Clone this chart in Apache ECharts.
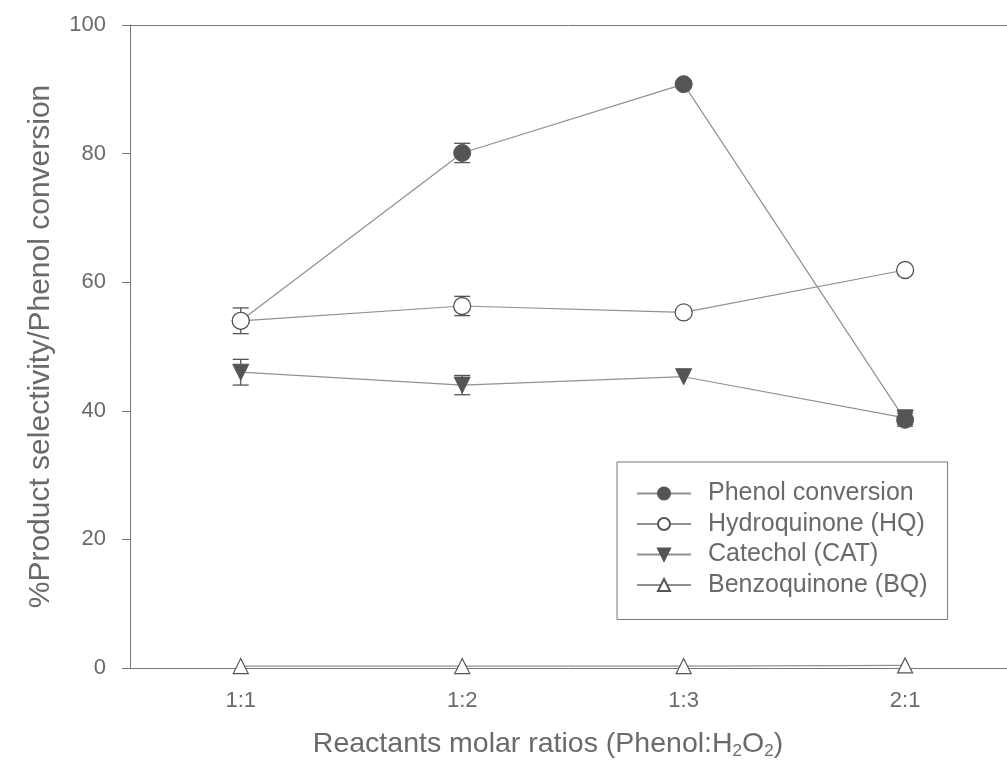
<!DOCTYPE html>
<html><head><meta charset="utf-8">
<script src="https://cdn.jsdelivr.net/npm/echarts@6/dist/echarts.min.js"></script>
<style>html,body{margin:0;padding:0;background:#fff}#c{width:1007px;height:774px}</style>
</head><body><div id="c"></div>
<script>
const categories = ['1:1', '1:2', '1:3', '2:1'];
const yTicks = [0, 20, 40, 60, 80, 100];
const phenol = [54, 80.1, 90.8, 38.6];
const phenolErr = [0, 1.5, 0, 1];
const hq = [54, 56.3, 55.3, 61.9];
const hqErr = [2, 1.5, 0, 0];
const cat = [46, 44, 45.3, 38.9];
const catErr = [2, 1.5, 0, 1];
const bq = [0.3, 0.3, 0.3, 0.4];
const bqErr = [0, 0, 0, 0];
const names = ['Phenol conversion', 'Hydroquinone (HQ)', 'Catechol (CAT)', 'Benzoquinone (BQ)'];

const lineColor = '#909090';
const markColor = '#555';
const txt = '#6a6a6a';
const font = 'Liberation Sans, Arial, sans-serif';
const idx = categories.map((c, i) => i);
const pts = vals => vals.map((v, i) => [i, v]);

function errSeries(vals, errs, z) {
  return {
    type: 'custom', name: 'err', z: z, silent: true,
    data: vals.map((v, i) => [i, v, errs[i]]).filter(d => d[2] > 0),
    renderItem: function (params, api) {
      const x = api.value(0), y = api.value(1), e = api.value(2);
      const hi = api.coord([x, y + e]), lo = api.coord([x, y - e]);
      const w = 8;
      const st = { stroke: markColor, lineWidth: 1.3 };
      return { type: 'group', children: [
        { type: 'line', shape: { x1: hi[0], y1: hi[1], x2: lo[0], y2: lo[1] }, style: st },
        { type: 'line', shape: { x1: hi[0] - w, y1: hi[1], x2: hi[0] + w, y2: hi[1] }, style: st },
        { type: 'line', shape: { x1: lo[0] - w, y1: lo[1], x2: lo[0] + w, y2: lo[1] }, style: st }
      ]};
    }
  };
}

const chart = echarts.init(document.getElementById('c'));
chart.setOption({
  animation: false,
  backgroundColor: '#fff',
  grid: { left: 130, right: 0, top: 25, bottom: 106, show: false },
  legend: {
    data: names,
    orient: 'vertical', left: 617, top: 462,
    padding: [19, 20, 22, 19],
    borderColor: '#777', borderWidth: 1,
    itemWidth: 54, itemHeight: 15, itemGap: 5.5,
    textStyle: { color: txt, fontSize: 25, fontFamily: font, lineHeight: 25, padding: [0, 0, 0, 12] }
  },
  xAxis: [{
    type: 'value', min: -0.5, max: 3.46,
    axisLine: { show: true, onZero: false, lineStyle: { color: '#777' } },
    axisTick: { show: false },
    splitLine: { show: false },
    axisLabel: { color: txt, fontSize: 22, fontFamily: font, margin: 22,
      customValues: idx, formatter: v => categories[Math.round(v)] },
    name: 'Reactants molar ratios (Phenol:H{s|2}O{s|2})',
    nameLocation: 'middle', nameGap: 61,
    nameTextStyle: { color: txt, fontSize: 28.5, fontFamily: font, padding: [0, 41, 0, 0],
      rich: { s: { fontSize: 17, color: txt, fontFamily: font, verticalAlign: 'bottom', padding: [14, 0, 0, 0] } } }
  }, {
    type: 'value', position: 'top', min: -0.5, max: 3.46,
    axisLine: { show: true, onZero: false, lineStyle: { color: '#777' } },
    axisTick: { show: false }, axisLabel: { show: false }, splitLine: { show: false }
  }],
  yAxis: {
    type: 'value', min: 0, max: 100, interval: 20,
    axisLine: { show: true, onZero: false, lineStyle: { color: '#777' } },
    axisTick: { show: true, length: 8, lineStyle: { color: '#777' } },
    splitLine: { show: false },
    axisLabel: { color: txt, fontSize: 22, fontFamily: font, margin: 24,
      formatter: v => yTicks.includes(v) ? String(v) : '' },
    name: '%Product selectivity/Phenol conversion',
    nameLocation: 'middle', nameGap: 74,
    nameTextStyle: { color: txt, fontSize: 30, fontFamily: font }
  },
  series: [
    { type: 'line', name: names[0], data: pts(phenol), symbol: 'circle', symbolSize: 17, z: 3,
      lineStyle: { color: lineColor, width: 1.2 },
      itemStyle: { color: markColor, borderColor: markColor, borderWidth: 1 } },
    errSeries(phenol, phenolErr, 2),
    { type: 'line', name: names[1], data: pts(hq), symbol: 'circle', symbolSize: 17, z: 5,
      lineStyle: { color: lineColor, width: 1.2 },
      itemStyle: { color: '#fff', borderColor: markColor, borderWidth: 1.3 } },
    errSeries(hq, hqErr, 4),
    { type: 'line', name: names[2], data: pts(cat), symbol: 'triangle', symbolRotate: 180, symbolSize: 16, z: 3,
      lineStyle: { color: lineColor, width: 1.2 },
      itemStyle: { color: markColor, borderColor: markColor, borderWidth: 1 } },
    errSeries(cat, catErr, 2),
    { type: 'line', name: names[3], data: pts(bq), symbol: 'triangle', symbolSize: 15, z: 3,
      lineStyle: { color: lineColor, width: 1.2 },
      itemStyle: { color: '#fff', borderColor: markColor, borderWidth: 1.2 } },
    errSeries(bq, bqErr, 2)
  ]
});
</script></body></html>
